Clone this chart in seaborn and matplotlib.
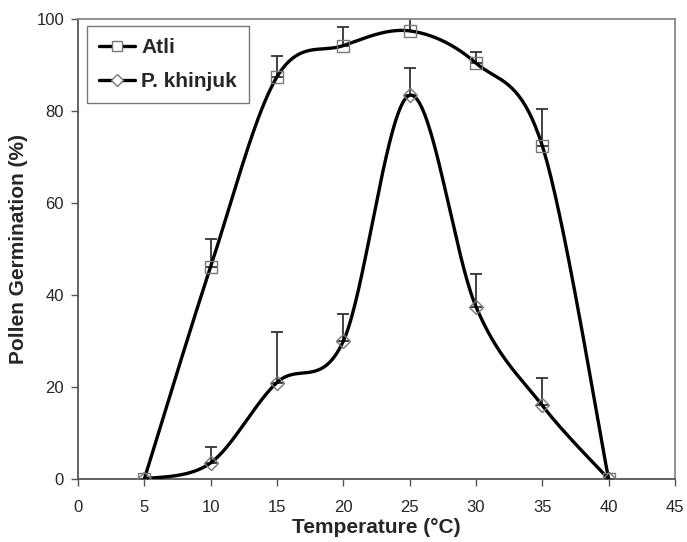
import numpy as np
import pandas as pd
import seaborn as sns
import matplotlib.pyplot as plt

# Данные: температура и прорастание пыльцы (%)
temp = [5, 10, 15, 20, 25, 30, 35, 40]
atli = [0, 46.2, 87.5, 94.3, 97.5, 90.5, 72.5, 0]
atli_err = [0, 6, 4.5, 4, 3, 2.5, 8, 0]
khinjuk = [0, 3.5, 21, 30, 83.5, 37.5, 16, 0]
khinjuk_err = [0, 3.5, 11, 6, 6, 7, 6, 0]


def smooth(x, y, n=40):
    # сглаживание как в Excel (кривые Безье / Catmull-Rom)
    x = np.asarray(x, float)
    y = np.asarray(y, float)
    px = np.concatenate([[x[0]], x, [x[-1]]])
    py = np.concatenate([[y[0]], y, [y[-1]]])
    xs, ys = [], []
    t = np.linspace(0, 1, n)
    for i in range(1, len(px) - 2):
        p0, p1, p2, p3 = [np.array([px[j], py[j]]) for j in (i - 1, i, i + 1, i + 2)]
        b1 = p1 + (p2 - p0) / 6
        b2 = p2 - (p3 - p1) / 6
        pts = ((1 - t) ** 3)[:, None] * p1 + (3 * (1 - t) ** 2 * t)[:, None] * b1 \
            + (3 * (1 - t) * t ** 2)[:, None] * b2 + (t ** 3)[:, None] * p2
        xs.extend(pts[:, 0])
        ys.extend(pts[:, 1])
    return np.array(xs), np.array(ys)


sns.set_style("white")
plt.rcParams['font.family'] = ['Liberation Sans', 'DejaVu Sans']

fig = plt.figure(figsize=(6.87, 5.42), dpi=100)
ax = fig.add_axes([0.1135, 0.1162, 0.869, 0.848])

series = [("Atli", atli, atli_err, "s"), ("P. khinjuk", khinjuk, khinjuk_err, "D")]
for name, vals, err, mk in series:
    ax.errorbar(temp, vals, yerr=[np.zeros(len(err)), err], fmt="none",
                ecolor="#333333", elinewidth=1.3, capsize=4, capthick=1.3, zorder=2)
    sx, sy = smooth(temp, vals)
    sns.lineplot(x=sx, y=sy, ax=ax, color="black", linewidth=2.4, sort=False,
                 estimator=None, zorder=3)
    ax.plot(temp, vals, linestyle="none", marker=mk, markersize=8 if mk == "s" else 7,
            markerfacecolor="none", markeredgecolor="#777777", markeredgewidth=1.0, zorder=4)

# легенда
handles = [plt.Line2D([], [], color="black", linewidth=2.4, marker=m,
                      markersize=7 if m == "s" else 6, markerfacecolor="white",
                      markeredgecolor="#777777", markeredgewidth=1.0)
           for _, _, _, m in series]
leg = ax.legend(handles, [s[0] for s in series], loc="upper left",
                bbox_to_anchor=(0.015, 0.986), borderaxespad=0, frameon=True,
                fancybox=False, prop={'weight': 'bold', 'size': 15}, handlelength=1.7,
                handletextpad=0.3, labelspacing=0.7, borderpad=0.6)
leg.get_frame().set_edgecolor("#555555")
leg.get_frame().set_linewidth(1.0)

ax.set_xlim(0, 45)
ax.set_ylim(0, 100)
ax.set_xticks(range(0, 46, 5))
ax.set_yticks(range(0, 101, 20))
ax.tick_params(axis="both", direction="out", length=5, width=1, color="#555555",
               labelsize=12, bottom=True, left=True)
ax.tick_params(axis="x", pad=10)
ax.tick_params(axis="y", pad=5)
for side, sp in ax.spines.items():
    sp.set_color("#888888" if side in ("top", "right") else "#555555")
    sp.set_linewidth(1.3)

ax.set_xlabel("Temperature (°C)", fontsize=15, fontweight="bold", labelpad=2)
ax.set_ylabel("Pollen Germination (%)", fontsize=15, fontweight="bold", labelpad=6)

fig.savefig("out.png", dpi=100)
